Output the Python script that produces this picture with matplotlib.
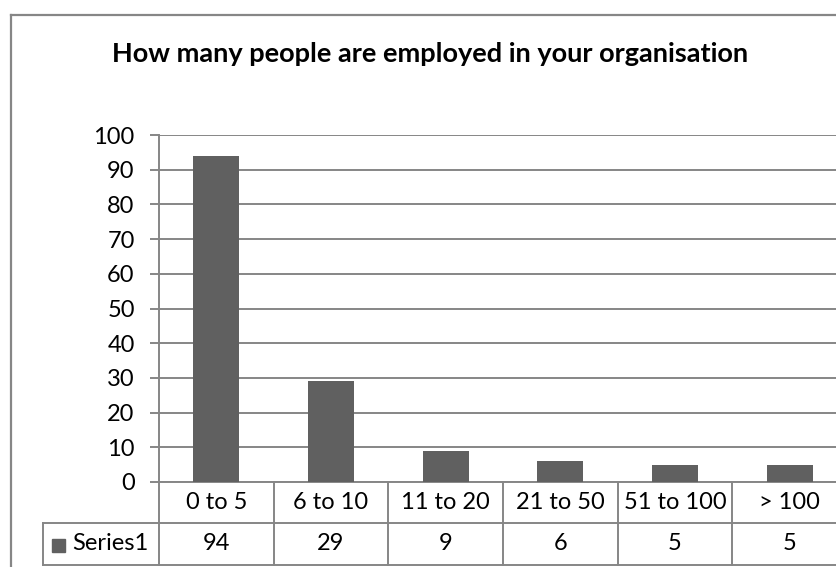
import matplotlib.pyplot as plt
from matplotlib.transforms import blended_transform_factory

# data
categories = ["0 to 5", "6 to 10", "11 to 20", "21 to 50", "51 to 100", "> 100"]
series_name = "Series1"
values = [94, 29, 9, 6, 5, 5]
y_ticks = [0, 10, 20, 30, 40, 50, 60, 70, 80, 90, 100]

W, H = 837, 567
plt.rcParams['font.family'] = ['Lato', 'DejaVu Sans']
line_col = "#868686"
bar_col = "#606060"
lw = 1.4
fs = 17

fig = plt.figure(figsize=(W / 100, H / 100), dpi=100)

# plot area in pixels (runs a little past the right edge, like the reference)
px_left, px_right, px_top, px_zero = 159, 847, 135, 482
ax = fig.add_axes([px_left / W, 1 - px_zero / H,
                   (px_right - px_left) / W, (px_zero - px_top) / H])

x = range(len(categories))
ax.bar(x, values, width=0.4, color=bar_col, zorder=3)
ax.set_xlim(-0.5, len(categories) - 0.5)
ax.set_ylim(0, 100)
ax.set_yticks(y_ticks)
ax.set_xticks([])
ax.yaxis.grid(True, color=line_col, linewidth=lw, zorder=0)
for s in ["top", "right"]:
    ax.spines[s].set_visible(False)
for s in ["left", "bottom"]:
    ax.spines[s].set_color(line_col)
    ax.spines[s].set_linewidth(lw)
ax.tick_params(axis="y", length=6.5, width=lw, color=line_col,
               labelsize=fs, pad=11)

# data table underneath
tr = blended_transform_factory(ax.transData, fig.transFigure)
def fy(py):
    return 1 - py / H

row1_top, row1_bot, row2_bot = 482, 523, 565
label_left = -0.5 - (px_left - 43) / ((px_right - px_left) / len(categories))
kw = dict(color=line_col, linewidth=lw, transform=tr, clip_on=False)

for b in [i - 0.5 for i in range(len(categories) + 1)]:
    ax.plot([b, b], [fy(row1_top), fy(row2_bot)], **kw)
ax.plot([label_left, label_left], [fy(row1_bot), fy(row2_bot)], **kw)
ax.plot([label_left, len(categories) - 0.5], [fy(row1_bot), fy(row1_bot)], **kw)
ax.plot([label_left, len(categories) - 0.5], [fy(row2_bot), fy(row2_bot)], **kw)

for i, (c, v) in enumerate(zip(categories, values)):
    ax.text(i, fy((row1_top + row1_bot) / 2), c, transform=tr,
            ha="center", va="center", fontsize=fs)
    ax.text(i, fy((row1_bot + row2_bot) / 2), str(v), transform=tr,
            ha="center", va="center", fontsize=fs)

# legend key + series name
fig.patches.append(plt.Rectangle((52 / W, fy(552)), 13 / W, 13 / H,
                                 transform=fig.transFigure, color=bar_col))
fig.text(72 / W, fy((row1_bot + row2_bot) / 2), series_name,
         ha="left", va="center", fontsize=fs)

# title
fig.text(430 / W, fy(54), "How many people are employed in your organisation",
         ha="center", va="center", fontsize=19.5, fontweight="bold")

# outer chart border (left and top visible)
fig.lines.append(plt.Line2D([11 / W, 11 / W], [0, fy(15)], color=line_col,
                            linewidth=1.6, transform=fig.transFigure))
fig.lines.append(plt.Line2D([11 / W, 1], [fy(15), fy(15)], color=line_col,
                            linewidth=1.6, transform=fig.transFigure))

fig.savefig("out.png", dpi=100)
